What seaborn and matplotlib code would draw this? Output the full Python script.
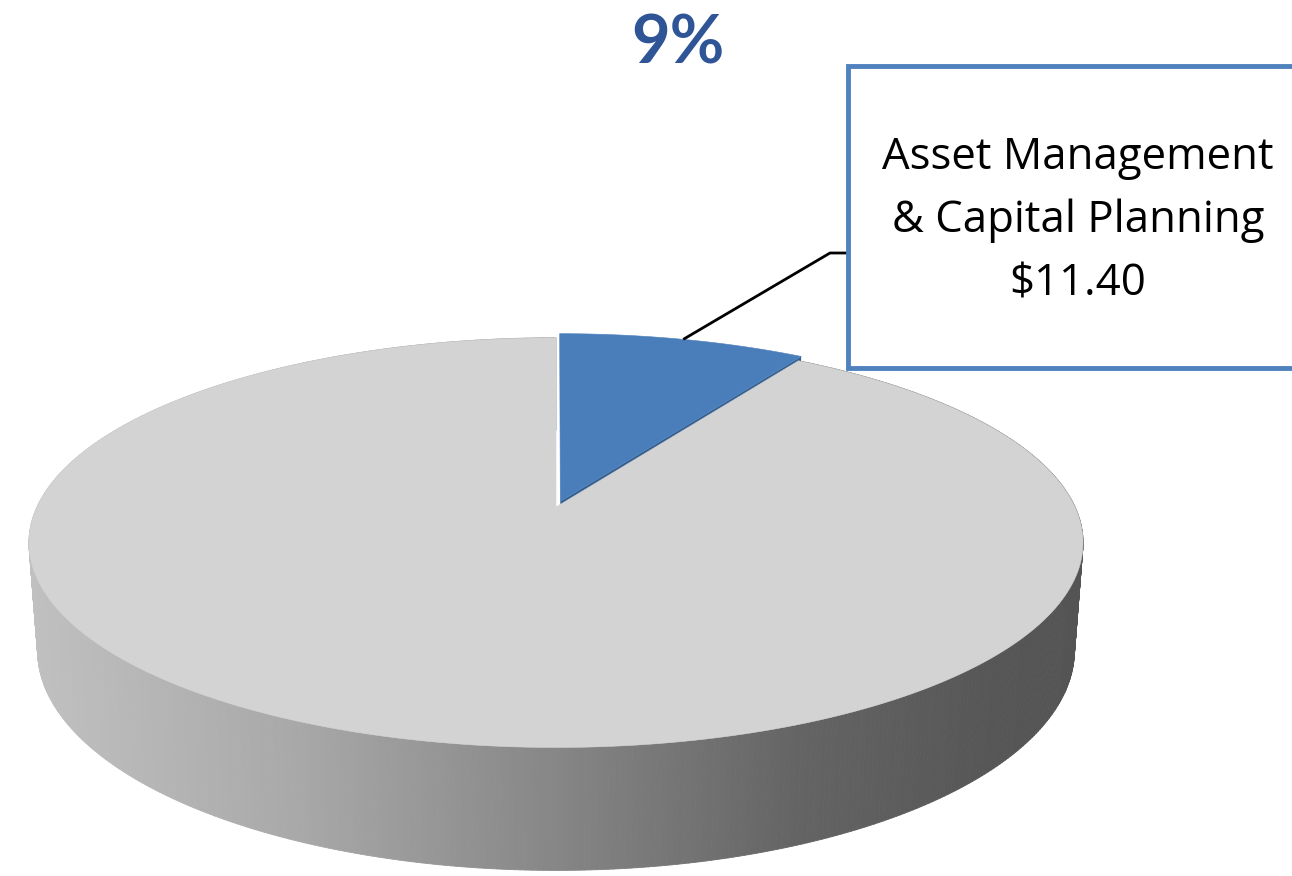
import numpy as np
import matplotlib
matplotlib.use("Agg")
import matplotlib.pyplot as plt
import seaborn as sns
from matplotlib.patches import Polygon, Rectangle
from matplotlib.collections import PolyCollection

# --------------------------
# Data
# --------------------------
categories = ["Asset Management\n& Capital Planning", "Other"]
amounts = [11.40, 115.27]
slice_colors = ["#4a7ebb", "#d3d3d3"]
explode = [0.03, 0.0]

share = amounts[0] / sum(amounts)

# --------------------------
# Perspective settings (3D look of the Excel pie)
# --------------------------
CX, CY = 556, 507          # centre of the pie on the canvas (px)
F, DIST = 2756, 5.31       # focal length / camera distance
ALPHA = np.deg2rad(22.5)   # camera elevation
DEPTH = 0.224              # pie thickness (in radius units)


def project(x, y, z=0.0):
    d = DIST + y * np.cos(ALPHA) - z * np.sin(ALPHA)
    yc = y * np.sin(ALPHA) + z * np.cos(ALPHA)
    return CX + F * x / d, CY - F * yc / d


def rim(center, r, t1, t2, z=0.0, n=300):
    t = np.deg2rad(np.linspace(t1, t2, n))
    return project(center[0] + r * np.cos(t), center[1] + r * np.sin(t), z)


def side_shade(x):
    # light on the left, dark on the right
    stops = [30, 300, 550, 800, 1000, 1090]
    grey = [192, 168, 135, 100, 86, 84]
    g = np.interp(x, stops, grey) / 255
    return (g, g, g)


sns.set_theme(style="white")
fig = plt.figure(figsize=(12.92, 8.76), dpi=100)
ax = fig.add_axes([0, 0, 1, 1])

# let matplotlib lay out the slices, then redraw them in perspective
wedges, _ = ax.pie(amounts, startangle=90, counterclock=False,
                   explode=explode, colors=slice_colors, radius=1)
geo = [(w.center, w.r, w.theta1, w.theta2) for w in wedges]
for w in wedges:
    w.remove()

ax.set_aspect("auto")
ax.set_xlim(0, 1292)
ax.set_ylim(876, 0)
ax.axis("off")

# side wall of the grey slice
(gc, gr, gt1, gt2) = geo[1]
tx, ty = rim(gc, gr, gt1, gt2, 0.0, 600)
bx, by = rim(gc, gr, gt1, gt2, -DEPTH, 600)
quads, cols = [], []
for i in range(len(tx) - 1):
    quads.append([(tx[i], ty[i]), (tx[i + 1], ty[i + 1]),
                  (bx[i + 1], by[i + 1]), (bx[i], by[i])])
    cols.append(side_shade((tx[i] + tx[i + 1]) / 2))
ax.add_collection(PolyCollection(quads, facecolors=cols, edgecolors=cols,
                                 linewidths=0.6, zorder=1))

# cut face of the blue slice
(bc, br, bt1, bt2) = geo[0]
p_ct = project(bc[0], bc[1], 0.0)
p_cb = project(bc[0], bc[1], -DEPTH)
e_t = rim(bc, br, bt1, bt1, 0.0, 1)
e_b = rim(bc, br, bt1, bt1, -DEPTH, 1)
face = [p_ct, (e_t[0][0], e_t[1][0]), (e_b[0][0], e_b[1][0]), p_cb]
ax.add_patch(Polygon(face, closed=True, facecolor="#35608f",
                     edgecolor="none", zorder=2))

# top faces
for i, (c, r, t1, t2) in enumerate(geo):
    xs, ys = rim(c, r, t1, t2, 0.0)
    cx, cy = project(c[0], c[1], 0.0)
    pts = np.column_stack([np.r_[cx, xs], np.r_[cy, ys]])
    ax.add_patch(Polygon(pts, closed=True, facecolor=slice_colors[i],
                         edgecolor=slice_colors[i], linewidth=0.4,
                         zorder=3 + i))

# --------------------------
# Labels
# --------------------------
ax.text(678, 45, f"{share:.0%}", ha="center", va="center",
        fontsize=48, fontweight="bold", color="#2f5597",
        family=["Lato", "DejaVu Sans"], zorder=6)

ax.add_patch(Rectangle((848, 66), 460, 302, facecolor="white",
                       edgecolor="#4f81bd", linewidth=3.5, zorder=6))
ax.text(1078, 221, f"{categories[0]}\n${amounts[0]:.2f}", ha="center",
        va="center", fontsize=31.5, linespacing=1.56, color="black",
        family=["Open Sans", "DejaVu Sans"], zorder=7)

# leader line from the middle of the blue slice rim
mid = (bt1 + bt2) / 2
ax_, ay_ = rim(bc, br, mid, mid, 0.0, 1)
ax.plot([ax_[0], 830, 848], [ay_[0], 253, 253], color="black",
        linewidth=2.0, zorder=5, solid_capstyle="butt")

fig.savefig("out.png", dpi=100, facecolor="white")
